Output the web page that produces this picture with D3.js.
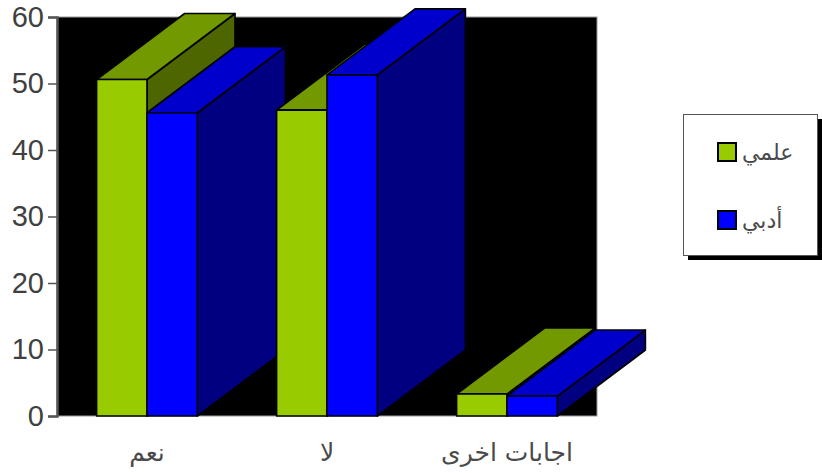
<!DOCTYPE html>
<html>
<head>
<meta charset="utf-8">
<script src="https://cdn.jsdelivr.net/npm/d3@7/dist/d3.min.js"></script>
<style>
  html, body { margin: 0; padding: 0; background: #fff; }
  svg { display: block; }
  text { font-family: "Liberation Sans", Arial, "DejaVu Sans", sans-serif; }
</style>
</head>
<body>
<svg id="chart" width="822" height="473"></svg>
<script>
// Answer categories and the share (%) for each stream
const categories = ["نعم", "لا", "اجابات اخرى"];
const seriesNames = ["علمي", "أدبي"];
const scientific = [50.6, 46.0, 3.3];
const literary = [45.6, 51.3, 3.0];
const yTicks = [0, 10, 20, 30, 40, 50, 60];

const palette = {
  "علمي": { front: "#99cc00", top: "#739900", side: "#4d6600" },
  "أدبي": { front: "#0000ff", top: "#0000cc", side: "#000080" }
};

const svg = d3.select("#chart");
const plot = { left: 57, right: 597, top: 17, bottom: 416 };
const depth = { dx: 88, dy: -66 };

const y = d3.scaleLinear().domain([0, 60]).range([plot.bottom, plot.top]);
const x0 = d3.scaleBand().domain(categories).range([plot.left, plot.right])
  .paddingInner(0.44).paddingOuter(0.22);
const x1 = d3.scaleBand().domain(seriesNames).range([0, x0.bandwidth()]);

// back wall
svg.append("rect")
  .attr("x", plot.left).attr("y", plot.top)
  .attr("width", plot.right - plot.left).attr("height", plot.bottom - plot.top)
  .attr("fill", "#000").attr("stroke", "#9a9a9a").attr("stroke-width", 1);

// bar records, drawn left to right so nearer faces overlap correctly
const bars = [];
categories.forEach((c, i) => {
  seriesNames.forEach((s, j) => {
    bars.push({ cat: c, series: s, value: (j === 0 ? scientific : literary)[i] });
  });
});

const g = svg.append("g").attr("stroke", "#000").attr("stroke-width", 1.6)
  .attr("stroke-linejoin", "round");

bars.forEach(b => {
  const xa = x0(b.cat) + x1(b.series);
  const xb = xa + x1.bandwidth();
  const yt = y(b.value), yb = y(0);
  const { dx, dy } = depth;
  const col = palette[b.series];
  const poly = pts => pts.map(p => p.join(",")).join(" ");
  // side face
  g.append("polygon").attr("fill", col.side)
    .attr("points", poly([[xb, yt], [xb + dx, yt + dy], [xb + dx, yb + dy], [xb, yb]]));
  // top face
  g.append("polygon").attr("fill", col.top)
    .attr("points", poly([[xa, yt], [xa + dx, yt + dy], [xb + dx, yt + dy], [xb, yt]]));
  // front face
  g.append("rect").attr("fill", col.front)
    .attr("x", xa).attr("y", yt).attr("width", xb - xa).attr("height", yb - yt);
});

// value axis
const yAxis = svg.append("g")
  .attr("transform", `translate(${plot.left},0)`)
  .call(d3.axisLeft(y).tickValues(yTicks).tickSize(9).tickPadding(4));
yAxis.select(".domain").attr("stroke", "#555").attr("stroke-width", 2.5);
yAxis.selectAll(".tick line").attr("stroke", "#555").attr("stroke-width", 1.5);
yAxis.selectAll(".tick text")
  .attr("fill", "#404040").style("font-size", "29px")
  .style("font-family", "'Liberation Sans', Arial, sans-serif");

// category axis
const xAxis = svg.append("g")
  .attr("transform", `translate(0,${plot.bottom})`)
  .call(d3.axisBottom(x0).tickSize(0).tickPadding(27));
xAxis.select(".domain").remove();
xAxis.selectAll(".tick text")
  .attr("fill", "#4a4a4a").style("font-size", "25px")
  .style("font-family", "'DejaVu Sans', sans-serif");

// legend
const legend = svg.append("g");
legend.append("rect").attr("x", 688).attr("y", 119).attr("width", 134).attr("height", 141)
  .attr("fill", "#000");
legend.append("rect").attr("x", 683.5).attr("y", 114.5).attr("width", 134).attr("height", 141)
  .attr("fill", "#fff").attr("stroke", "#555").attr("stroke-width", 1);
seriesNames.forEach((s, i) => {
  const cy = 152 + i * 68;
  legend.append("rect").attr("x", 718).attr("y", cy - 9).attr("width", 18).attr("height", 18)
    .attr("fill", palette[s].front).attr("stroke", "#000").attr("stroke-width", 2);
  legend.append("text").attr("x", 742).attr("y", cy).attr("dy", "0.35em")
    .attr("fill", "#4a4a4a").style("font-size", "22px")
    .style("font-family", "'DejaVu Sans', sans-serif")
    .attr("text-anchor", "start")
    .text(s);
});
</script>
</body>
</html>
